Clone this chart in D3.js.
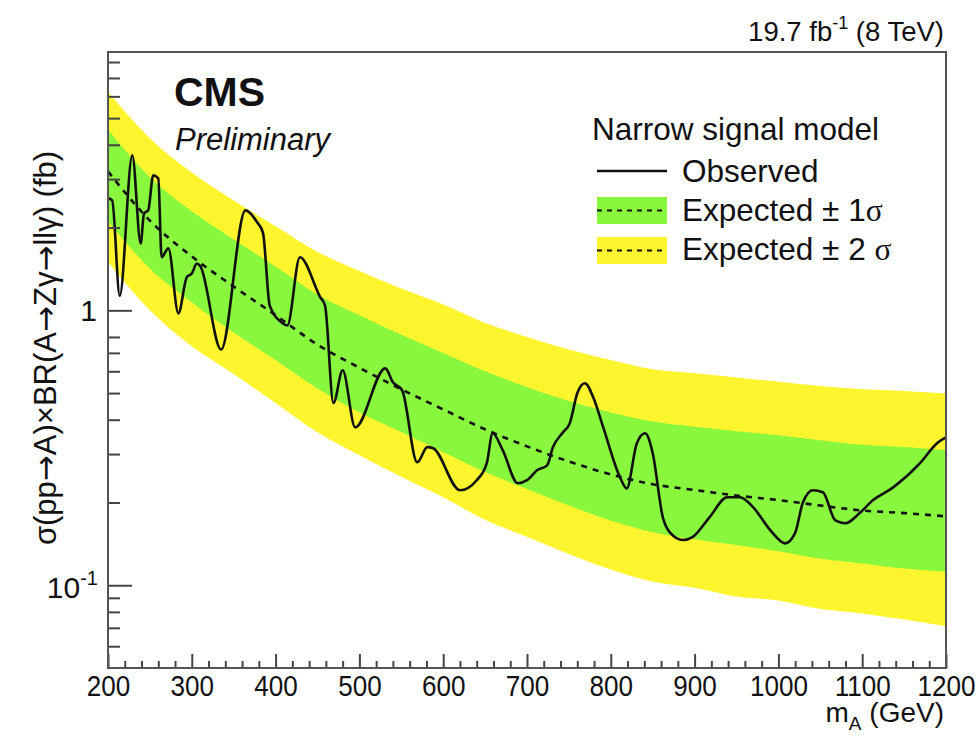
<!DOCTYPE html>
<html><head><meta charset="utf-8">
<script src="https://cdn.jsdelivr.net/npm/d3@7"></script>
<style>
html,body{margin:0;padding:0;background:#fff;}
svg text{font-family:"Liberation Sans",Arial,Helvetica,sans-serif;fill:#111;}
</style></head>
<body>
<svg id="chart" width="979" height="736"></svg>
<script>
// ---- data ----
const obsMass = [200,205,214,229,239,243,248,254,260,264,272,284,294,300,306,310,335,364,378,385,393,408,414,429,453,459,469,480,495,531,540,551,569,581,588,620,640,652,659,671,689,700,712,724,731,743,751,760,769,779,791,811,819,831,841,850,862,871,886,898,918,939,954,970,990,1008,1020,1029,1041,1053,1068,1080,1097,1113,1137,1169,1189,1200];
const obsValues = [2.56,2.51,1.13,3.66,1.75,2.25,2.31,3.10,3.02,1.56,1.68,0.975,1.32,1.36,1.48,1.45,0.72,2.31,2.09,1.91,1.04,0.90,0.88,1.56,1.12,1.04,0.46,0.605,0.375,0.615,0.547,0.512,0.28,0.318,0.315,0.2215,0.241,0.278,0.357,0.31,0.235,0.241,0.262,0.273,0.318,0.36,0.388,0.499,0.543,0.483,0.375,0.247,0.225,0.328,0.357,0.302,0.177,0.155,0.146,0.150,0.177,0.209,0.209,0.192,0.159,0.142,0.155,0.199,0.2215,0.218,0.172,0.168,0.183,0.204,0.227,0.278,0.328,0.345];

const expMass     = [200,250,300,350,400,450,500,550,600,650,700,750,800,850,900,950,1000,1050,1100,1150,1200];
const expValues   = [3.2,2.12,1.57,1.22,0.96,0.75,0.618,0.516,0.436,0.369,0.32,0.282,0.253,0.233,0.222,0.212,0.204,0.195,0.187,0.183,0.178];
const expPlus2    = [6.24,4.22,3.17,2.51,2.02,1.63,1.39,1.20,1.05,0.90,0.80,0.72,0.66,0.61,0.59,0.57,0.55,0.53,0.516,0.509,0.498];
const expPlus1    = [4.54,3.05,2.29,1.81,1.44,1.14,0.96,0.815,0.70,0.60,0.525,0.468,0.425,0.394,0.377,0.363,0.351,0.337,0.324,0.318,0.31];
const expMinus1   = [2.11,1.42,1.07,0.83,0.66,0.52,0.426,0.361,0.305,0.258,0.224,0.195,0.172,0.156,0.147,0.140,0.133,0.125,0.120,0.115,0.112];
const expMinus2   = [1.50,1.00,0.74,0.586,0.46,0.36,0.297,0.248,0.209,0.173,0.150,0.130,0.114,0.103,0.098,0.091,0.088,0.082,0.079,0.075,0.071];

const xTickLabels = [200,300,400,500,600,700,800,900,1000,1100,1200];
const yMajorTicks = [0.1, 1];
const yMinorTicks = [0.06,0.07,0.08,0.09,0.2,0.3,0.4,0.5,0.6,0.7,0.8];
const yMinorTicks2 = [2,3,4,5,6,7,8];

// ---- layout ----
const L = 108, R = 946, T = 52, B = 668;
const svg = d3.select("#chart");
const x = d3.scaleLinear().domain([200,1200]).range([L,R]);
const y = d3.scaleLog().domain([0.05,8.7]).range([B,T]);

const GREEN = "#88f73e", YELLOW = "#fff52e";

svg.append("clipPath").attr("id","plotclip").append("rect")
  .attr("x",L).attr("y",T).attr("width",R-L).attr("height",B-T);
const plot = svg.append("g").attr("clip-path","url(#plotclip)");

const band = expMass.map((m,i)=>({m, e:expValues[i], p2:expPlus2[i], p1:expPlus1[i], m1:expMinus1[i], m2:expMinus2[i]}));
const areaY = d3.area().x(d=>x(d.m)).y0(d=>y(d.m2)).y1(d=>y(d.p2)).curve(d3.curveMonotoneX);
const areaG = d3.area().x(d=>x(d.m)).y0(d=>y(d.m1)).y1(d=>y(d.p1)).curve(d3.curveMonotoneX);
plot.append("path").datum(band).attr("d",areaY).attr("fill",YELLOW);
plot.append("path").datum(band).attr("d",areaG).attr("fill",GREEN);
plot.append("path").datum(band)
  .attr("d",d3.line().x(d=>x(d.m)).y(d=>y(d.e)).curve(d3.curveMonotoneX))
  .attr("fill","none").attr("stroke","#111").attr("stroke-width",2.6).attr("stroke-dasharray","6,6");

const obs = obsMass.map((m,i)=>({m, v:obsValues[i]}));
plot.append("path").datum(obs)
  .attr("d",d3.line().x(d=>x(d.m)).y(d=>y(d.v)).curve(d3.curveMonotoneX))
  .attr("fill","none").attr("stroke","#111").attr("stroke-width",2.6).attr("stroke-linejoin","round");

// ---- axes ----
const tickColor = "#444";
function styleAxis(g){ g.select(".domain").remove(); g.selectAll("line").attr("stroke",tickColor).attr("stroke-width",2); }

const xMinor = d3.range(200,1201,20).filter(v=>v%100!==0);
svg.append("g").attr("transform",`translate(0,${B})`)
  .call(d3.axisBottom(x).tickValues(xMinor).tickSize(-7).tickFormat(""))
  .call(styleAxis);
const xa = svg.append("g").attr("transform",`translate(0,${B})`)
  .call(d3.axisBottom(x).tickValues(xTickLabels).tickSize(-14).tickPadding(7).tickFormat(d3.format("d")))
  .call(styleAxis);
xa.selectAll("text").attr("font-size",29).attr("fill","#111")
  .attr("font-family","Liberation Sans, Arial, sans-serif")
  .attr("transform","scale(0.9,1)");

svg.append("g").attr("transform",`translate(${L},0)`)
  .call(d3.axisLeft(y).tickValues(yMinorTicks.concat(yMinorTicks2)).tickSize(-12).tickFormat(""))
  .call(styleAxis);
svg.append("g").attr("transform",`translate(${L},0)`)
  .call(d3.axisLeft(y).tickValues(yMajorTicks).tickSize(-24).tickFormat(""))
  .call(styleAxis);

// y tick labels
svg.append("text").attr("x",L-11).attr("y",y(1)+11).attr("text-anchor","end").attr("font-size",30).text("1");
const t01 = svg.append("text").attr("x",L-10).attr("y",y(0.1)+13).attr("text-anchor","end").attr("font-size",30);
t01.append("tspan").text("10");
t01.append("tspan").attr("dy",-13).attr("font-size",20).text("-1");

// frame
svg.append("rect").attr("x",L).attr("y",T).attr("width",R-L).attr("height",B-T)
  .attr("fill","none").attr("stroke","#555").attr("stroke-width",2);

// ---- texts ----
const lum = svg.append("text").attr("x",944).attr("y",41).attr("text-anchor","end").attr("font-size",27.5);
lum.append("tspan").text("19.7 fb");
lum.append("tspan").attr("dy",-12).attr("font-size",18).text("-1");
lum.append("tspan").attr("dy",12).text(" (8 TeV)");

svg.append("text").attr("x",174).attr("y",106).attr("font-size",41).attr("font-weight","bold").text("CMS");
svg.append("text").attr("x",175).attr("y",150).attr("font-size",31).attr("font-style","italic").text("Preliminary");

const xt = svg.append("text").attr("x",944).attr("y",722).attr("text-anchor","end").attr("font-size",28);
xt.append("tspan").text("m");
xt.append("tspan").attr("dy",8).attr("font-size",19).text("A");
xt.append("tspan").attr("dy",-8).text(" (GeV)");

const yt = svg.append("text").attr("transform",`translate(56,348) rotate(-90)`).attr("text-anchor","middle")
  .attr("font-size",31);
const ARROW = "DejaVu Sans, sans-serif";
yt.append("tspan").text("σ(pp");
yt.append("tspan").attr("font-family",ARROW).text("→");
yt.append("tspan").text("A)×BR(A");
yt.append("tspan").attr("font-family",ARROW).text("→");
yt.append("tspan").text("Zγ");
yt.append("tspan").attr("font-family",ARROW).text("→");
yt.append("tspan").text("llγ) (fb)");

// ---- legend ----
const lg = svg.append("g");
lg.append("text").attr("x",592).attr("y",140).attr("font-size",31.5).text("Narrow signal model");
lg.append("line").attr("x1",597).attr("x2",667).attr("y1",171).attr("y2",171).attr("stroke","#111").attr("stroke-width",2.6);
lg.append("text").attr("x",682).attr("y",182).attr("font-size",31.5).text("Observed");
lg.append("rect").attr("x",597).attr("y",197).attr("width",70).attr("height",27).attr("fill",GREEN);
lg.append("line").attr("x1",597).attr("x2",667).attr("y1",210.5).attr("y2",210.5).attr("stroke","#111").attr("stroke-width",2).attr("stroke-dasharray","5,5");
const e1 = lg.append("text").attr("x",682).attr("y",221).attr("font-size",31.5);
e1.append("tspan").text("Expected ± 1");
e1.append("tspan").attr("font-family","Liberation Serif, serif").text("σ");
lg.append("rect").attr("x",597).attr("y",237).attr("width",70).attr("height",27).attr("fill",YELLOW);
lg.append("line").attr("x1",597).attr("x2",667).attr("y1",250.5).attr("y2",250.5).attr("stroke","#111").attr("stroke-width",2).attr("stroke-dasharray","5,5");
const e2 = lg.append("text").attr("x",682).attr("y",260).attr("font-size",31.5);
e2.append("tspan").text("Expected ± 2 ");
e2.append("tspan").attr("font-family","Liberation Serif, serif").text("σ");
</script>
</body></html>
